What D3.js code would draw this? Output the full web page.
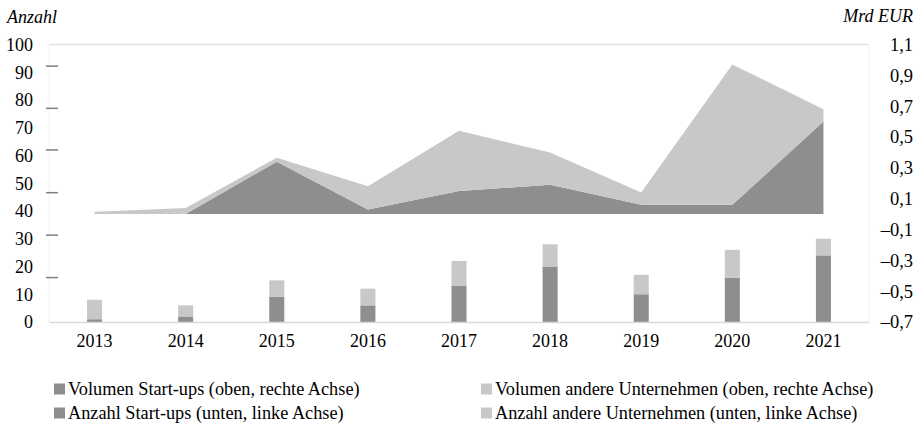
<!DOCTYPE html>
<html>
<head>
<meta charset="utf-8">
<script src="https://cdn.jsdelivr.net/npm/d3@7/dist/d3.min.js"></script>
<style>
    body { margin: 0; background: #fff; }
    text { font-family: 'Liberation Serif', 'Times New Roman', serif; fill: #000; }
</style>
</head>
<body>
<script>
    // data
    var years = ['2013', '2014', '2015', '2016', '2017', '2018', '2019', '2020', '2021'];
    var volStartups = [0, 0, 0.34, 0.03, 0.15, 0.19, 0.06, 0.06, 0.60];
    var volOthers = [0.015, 0.04, 0.025, 0.15, 0.39, 0.21, 0.08, 0.91, 0.08];
    var cntStartups = [1, 2, 9, 6, 13, 20, 10, 16, 24];
    var cntOthers = [7, 4, 6, 6, 9, 8, 7, 10, 6];
    var leftTicks = [0, 10, 20, 30, 40, 50, 60, 70, 80, 90, 100];
    var rightTicks = [1.1, 0.9, 0.7, 0.5, 0.3, 0.1, -0.1, -0.3, -0.5, -0.7];
    var dashTicks = [16, 31.3, 46.6, 62, 77, 92.2];
    var legendLabels = [
        'Volumen Start-ups (oben, rechte Achse)',
        'Volumen andere Unternehmen (oben, rechte Achse)',
        'Anzahl Start-ups (unten, linke Achse)',
        'Anzahl andere Unternehmen (unten, linke Achse)'
    ];

    var dark = '#8e8e8e', light = '#c8c8c8';
    var W = 919, H = 427;
    var plot = {left: 49, right: 869, top: 44.5, bottom: 322};

    var svg = d3.select('body').append('svg')
        .attr('width', W)
        .attr('height', H);

    var x = d3.scaleBand()
        .domain(years)
        .range([plot.left, plot.right])
        .paddingInner(0.835)
        .paddingOuter(0.4175);
    var cx = d => x(d) + x.bandwidth() / 2;

    var yL = d3.scaleLinear().domain([0, 100]).range([plot.bottom, plot.top]);
    var yR = d3.scaleLinear().domain([-0.7, 1.1]).range([plot.bottom, plot.top]);

    // plot frame
    svg.append('line')
        .attr('x1', plot.left).attr('x2', plot.right)
        .attr('y1', plot.top).attr('y2', plot.top)
        .attr('stroke', '#e3e3e3').attr('stroke-width', 1.5);
    svg.append('line')
        .attr('x1', plot.left).attr('x2', plot.left)
        .attr('y1', plot.top).attr('y2', plot.bottom)
        .attr('stroke', '#f0f0f0');
    svg.append('line')
        .attr('x1', plot.right).attr('x2', plot.right)
        .attr('y1', plot.top).attr('y2', plot.bottom)
        .attr('stroke', '#f0f0f0');

    // stacked areas (volume, right axis)
    var volRows = years.map((y, i) => ({year: y, s: volStartups[i], o: volOthers[i]}));
    var volStack = d3.stack().keys(['s', 'o'])(volRows);
    var area = d3.area()
        .x(d => cx(d.data.year))
        .y0(d => yR(d[0]))
        .y1(d => yR(d[1]));
    svg.selectAll('path.vol')
        .data(volStack)
        .enter().append('path')
        .attr('class', 'vol')
        .attr('d', area)
        .attr('fill', (d, i) => i === 0 ? dark : light);

    // stacked bars (count, left axis)
    var cntRows = years.map((y, i) => ({year: y, s: cntStartups[i], o: cntOthers[i]}));
    var cntStack = d3.stack().keys(['s', 'o'])(cntRows);
    svg.selectAll('g.cnt')
        .data(cntStack)
        .enter().append('g')
        .attr('class', 'cnt')
        .attr('fill', (d, i) => i === 0 ? dark : light)
        .selectAll('rect')
        .data(d => d)
        .enter().append('rect')
        .attr('x', d => x(d.data.year))
        .attr('width', x.bandwidth())
        .attr('y', d => yL(d[1]))
        .attr('height', d => yL(d[0]) - yL(d[1]));

    // x axis
    var xAxis = svg.append('g')
        .attr('transform', 'translate(0,' + plot.bottom + ')')
        .call(d3.axisBottom(x).tickSize(0).tickPadding(12));
    xAxis.select('.domain').attr('stroke', '#d9d9d9').attr('stroke-width', 1.5);
    xAxis.selectAll('text').style('font-size', '18px').attr('fill', '#000');

    // left axis
    var yAxisL = svg.append('g')
        .attr('transform', 'translate(' + plot.left + ',0)')
        .call(d3.axisLeft(yL).tickValues(leftTicks).tickSize(0).tickPadding(16));
    yAxisL.select('.domain').remove();
    yAxisL.selectAll('text').style('font-size', '18px').attr('fill', '#000');

    // little dashes beside the left axis
    svg.append('g')
        .selectAll('line')
        .data(dashTicks)
        .enter().append('line')
        .attr('x1', 46).attr('x2', 58)
        .attr('y1', d => yL(d)).attr('y2', d => yL(d))
        .attr('stroke', '#7f7f7f').attr('stroke-width', 1.5);

    // right axis
    var fmt = d => (d < 0 ? '\u2013' : '') + Math.abs(d).toFixed(1).replace('.', ',');
    var yAxisR = svg.append('g')
        .attr('transform', 'translate(' + plot.right + ',0)')
        .call(d3.axisRight(yR).tickValues(rightTicks).tickFormat(fmt).tickSize(0));
    yAxisR.select('.domain').remove();
    yAxisR.selectAll('text')
        .attr('x', 44)
        .attr('text-anchor', 'end')
        .style('font-size', '18.5px')
        .attr('fill', '#000');

    // unit labels
    svg.append('text')
        .attr('x', 7).attr('y', 23)
        .style('font-size', '18px').style('font-style', 'italic')
        .text('Anzahl');
    svg.append('text')
        .attr('x', 913).attr('y', 22)
        .attr('text-anchor', 'end')
        .style('font-size', '18px').style('font-style', 'italic')
        .text('Mrd EUR');

    // legend
    var legend = svg.selectAll('g.legend')
        .data(legendLabels)
        .enter().append('g')
        .attr('class', 'legend')
        .attr('transform', (d, i) => 'translate(' + (i % 2 === 0 ? 54 : 481) + ',' + (i < 2 ? 389 : 413) + ')');
    legend.append('rect')
        .attr('x', 0).attr('y', -5.5)
        .attr('width', 11).attr('height', 11)
        .attr('fill', (d, i) => i % 2 === 0 ? dark : light);
    legend.append('text')
        .attr('x', 14).attr('dy', '0.35em')
        .style('font-size', '18.3px')
        .text(d => d);
</script>
</body>
</html>
